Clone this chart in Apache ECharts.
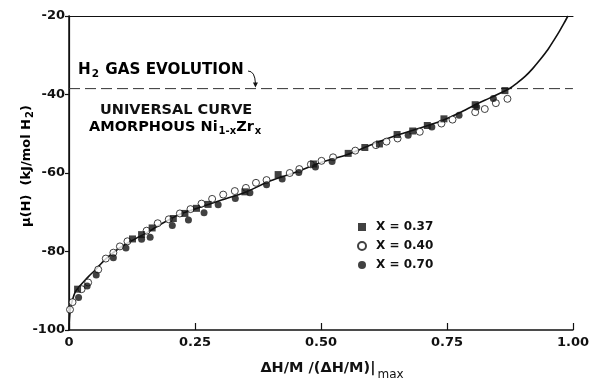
<!DOCTYPE html>
<html>
<head>
<meta charset="utf-8">
<script src="https://cdn.jsdelivr.net/npm/echarts@6/dist/echarts.min.js"></script>
<style>
  html, body { margin: 0; padding: 0; background: #fff; }
  #chart { width: 592px; height: 386px; }
</style>
</head>
<body>
<div id="chart"></div>
<script>
// Universal chemical-potential curve for amorphous Ni(1-x)Zr(x)
const curveX = [0, 0.001, 0.003, 0.007, 0.0125, 0.02, 0.029, 0.04, 0.052, 0.072, 0.098, 0.125, 0.16, 0.18, 0.22, 0.25, 0.30, 0.35, 0.40, 0.45, 0.50, 0.55, 0.60, 0.65, 0.70, 0.736, 0.776, 0.806, 0.84, 0.875, 0.89, 0.905, 0.92, 0.935, 0.95, 0.962, 0.973, 0.982, 0.99];
const curveY = [-100, -97, -94.5, -92.3, -90.3, -89, -87.7, -86.2, -84.7, -82, -79.3, -77.2, -74.8, -73.2, -70.5, -69.2, -67.0, -64.9, -62.0, -59.8, -57.3, -55.4, -52.8, -50.4, -48.4, -46.9, -44.6, -42.6, -40.6, -38.4, -37.0, -35.4, -33.4, -31.1, -28.6, -26.2, -23.9, -21.9, -20];

// Measured points, [ΔH/M normalised, μ(H)]
const x037 = [[0.017, -89.6], [0.126, -76.8], [0.144, -75.7], [0.165, -74.0], [0.207, -71.6], [0.230, -70.3], [0.253, -69.0], [0.276, -68.0], [0.349, -64.8], [0.415, -60.4], [0.485, -57.7], [0.554, -55.0], [0.587, -53.5], [0.616, -52.6], [0.651, -50.2], [0.682, -49.3], [0.711, -47.9], [0.744, -46.2], [0.806, -42.6], [0.865, -39.0]];
const x040 = [[0.002, -94.8], [0.007, -92.9], [0.025, -89.6], [0.038, -87.9], [0.058, -84.6], [0.073, -81.8], [0.088, -80.3], [0.101, -78.7], [0.116, -77.4], [0.154, -74.7], [0.176, -72.8], [0.198, -71.8], [0.220, -70.3], [0.241, -69.2], [0.263, -67.8], [0.284, -66.6], [0.306, -65.5], [0.329, -64.6], [0.351, -63.8], [0.371, -62.5], [0.392, -61.8], [0.438, -60.0], [0.457, -59.0], [0.480, -57.8], [0.501, -56.9], [0.524, -56.0], [0.568, -54.3], [0.609, -52.9], [0.630, -52.0], [0.652, -51.2], [0.696, -49.5], [0.739, -47.4], [0.761, -46.4], [0.806, -44.5], [0.825, -43.7], [0.847, -42.2], [0.870, -41.1]];
const x070 = [[0.019, -91.7], [0.036, -88.8], [0.054, -86.0], [0.088, -81.6], [0.113, -79.1], [0.144, -76.9], [0.161, -76.4], [0.205, -73.4], [0.237, -72.0], [0.268, -70.1], [0.296, -68.1], [0.330, -66.5], [0.359, -65.0], [0.392, -63.0], [0.423, -61.5], [0.456, -59.9], [0.489, -58.5], [0.522, -57.1], [0.673, -50.4], [0.720, -48.3], [0.774, -45.3], [0.809, -43.2], [0.842, -41.0]];

const gasLevel = -38.5;
const xTicks = ['0', '0.25', '0.50', '0.75', '1.00'];
const seriesNames = ['X = 0.37', 'X = 0.40', 'X = 0.70'];

const FONT = "'DejaVu Sans', 'Liberation Sans', sans-serif";
const INK = '#111';

const chart = echarts.init(document.getElementById('chart'), null, { renderer: 'canvas' });

const curveData = curveX.map((x, i) => [x, curveY[i]]);

const sub = { fontSize: 10, fontWeight: 'bold', fontFamily: FONT, color: INK, verticalAlign: 'top', padding: [6, 0, 0, 1] };
const mainTxt = { fontSize: 14.5, fontWeight: 'bold', fontFamily: FONT, color: INK, verticalAlign: 'top' };

chart.setOption({
  animation: false,
  backgroundColor: '#fff',
  grid: { left: 69, right: 19, top: 16, bottom: 52 },
  xAxis: [{
    type: 'value', min: 0, max: 1, interval: 0.25, position: 'bottom',
    axisLine: { lineStyle: { color: INK, width: 1.5 } },
    axisTick: { inside: true, length: 7, lineStyle: { color: INK, width: 1.2 } },
    axisLabel: {
      margin: 6, color: INK, fontSize: 13, fontWeight: 'bold', fontFamily: FONT,
      formatter: v => xTicks[Math.round(v * 4)]
    },
    splitLine: { show: false },
    name: '{m|ΔH/M /(ΔH/M)|}{s|max}',
    nameLocation: 'middle', nameGap: 31,
    nameTextStyle: {
      padding: [0, 0, 0, 22],
      rich: {
        m: Object.assign({}, mainTxt, { fontSize: 14.5 }),
        s: Object.assign({}, sub, { fontSize: 12, fontWeight: 'normal', padding: [8, 0, 0, 2] })
      }
    }
  }, {
    type: 'value', min: 0, max: 1, interval: 0.25, position: 'top',
    axisLine: { lineStyle: { color: INK, width: 1.2 } },
    axisTick: { show: false }, axisLabel: { show: false }, splitLine: { show: false }
  }],
  yAxis: [{
    type: 'value', min: -100, max: -20, interval: 20, position: 'left',
    axisLine: { lineStyle: { color: INK, width: 1.5 } },
    axisTick: { inside: false, length: 4, lineStyle: { color: INK, width: 1.2 } },
    axisLabel: { margin: 4, color: INK, fontSize: 13, fontWeight: 'bold', fontFamily: FONT },
    splitLine: { show: false }
  }, {
    type: 'value', min: -100, max: -20, interval: 20, position: 'right',
    axisLine: { lineStyle: { color: INK, width: 1.2 } },
    axisTick: { inside: true, length: 4, lineStyle: { color: INK, width: 1 } },
    axisLabel: { show: false }, splitLine: { show: false }
  }],
  legend: {
    orient: 'vertical', left: 352, top: 216, itemGap: 7,
    itemWidth: 8, itemHeight: 8,
    textStyle: { color: INK, fontSize: 12, fontWeight: 'bold', fontFamily: FONT, padding: [0, 0, 0, 5] },
    data: [
      { name: seriesNames[0], icon: 'rect' },
      { name: seriesNames[1], icon: 'circle' },
      { name: seriesNames[2], icon: 'circle' }
    ]
  },
  series: [
    {
      name: 'gas', type: 'line', data: [[0, gasLevel], [1, gasLevel]],
      symbol: 'none', lineStyle: { color: '#333', width: 1, type: [11, 5] }, silent: true, z: 1
    },
    {
      name: 'curve', type: 'line', data: curveData, symbol: 'none',
      smooth: 0.25,
      lineStyle: { color: INK, width: 1.6 }, silent: true, z: 2
    },
    {
      name: seriesNames[0], type: 'scatter', data: x037, symbol: 'rect', symbolSize: 7,
      itemStyle: { color: INK }, z: 4
    },
    {
      name: seriesNames[1], type: 'scatter', data: x040, symbol: 'circle', symbolSize: 7,
      itemStyle: { color: '#fff', borderColor: INK, borderWidth: 1 }, z: 3
    },
    {
      name: seriesNames[2], type: 'scatter', data: x070, symbol: 'circle', symbolSize: 7,
      itemStyle: { color: INK }, z: 4
    }
  ]
});

// Annotations placed from data coordinates
const gasPx = chart.convertToPixel({ xAxisIndex: 0, yAxisIndex: 0 }, [0.37, gasLevel]);
chart.setOption({
  graphic: [
    {
      type: 'text', x: 28, y: 166, rotation: Math.PI / 2,
      style: {
        text: '{m|μ(H)  (kJ/mol H}{s|2}{m|)}',
        align: 'center', verticalAlign: 'middle',
        rich: {
          m: Object.assign({}, mainTxt, { fontSize: 13 }),
          s: Object.assign({}, sub, { fontSize: 10, padding: [5, 0, 0, 1] })
        }
      }
    },
    {
      type: 'text', left: 78, top: 63,
      style: {
        text: '{m|H}{s|2}{m| GAS EVOLUTION}',
        rich: {
          m: Object.assign({}, mainTxt, { fontSize: 15.2 }),
          s: Object.assign({}, sub, { fontSize: 10.5, padding: [6, 1, 0, 1] })
        }
      }
    },
    {
      type: 'bezierCurve',
      shape: { x1: 248, y1: 71, cpx1: 255, cpy1: 71, x2: gasPx[0], y2: gasPx[1] - 5 },
      style: { stroke: INK, lineWidth: 1, fill: null }
    },
    {
      type: 'polygon',
      shape: { points: [[gasPx[0] - 2.5, gasPx[1] - 6], [gasPx[0] + 2.5, gasPx[1] - 6], [gasPx[0], gasPx[1] - 1]] },
      style: { fill: INK }
    },
    {
      type: 'text', left: 100, top: 103,
      style: { text: 'UNIVERSAL CURVE', fontSize: 14.5, fontWeight: 'bold', fontFamily: FONT, fill: INK }
    },
    {
      type: 'text', left: 89, top: 120,
      style: {
        text: '{m|AMORPHOUS Ni}{s|1-x}{m|Zr}{s|x}',
        rich: { m: mainTxt, s: sub }
      }
    }
  ]
});
</script>
</body>
</html>
